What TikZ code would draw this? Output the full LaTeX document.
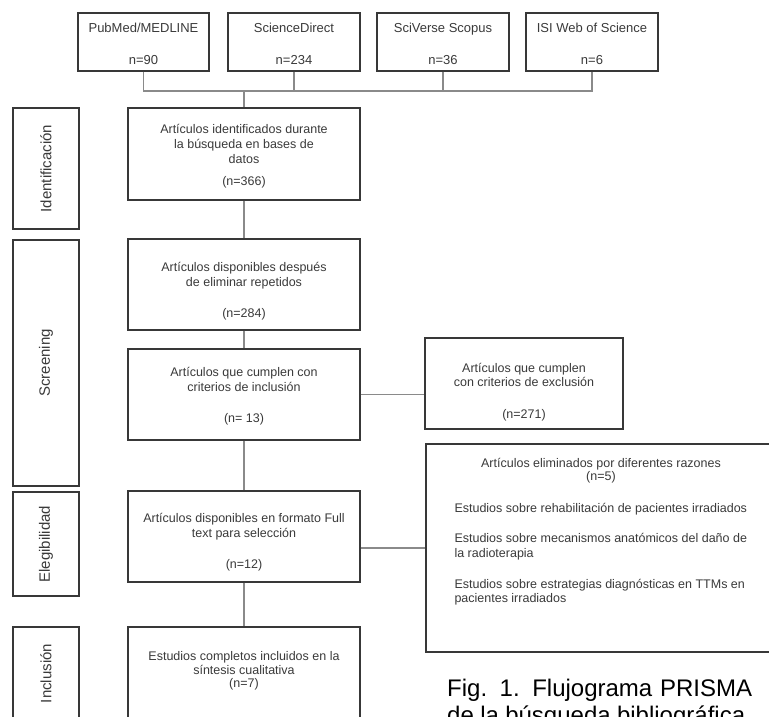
\documentclass[tikz,border=0pt]{standalone}
\usepackage{fontspec}
\setmainfont{Liberation Sans}
\definecolor{boxc}{HTML}{383838}
\definecolor{linec}{HTML}{8A8A8A}
\definecolor{txtc}{HTML}{3A3A3A}
\newcommand{\mytopbox}[4]{\parbox[c][#1][t]{#2}{\centering\vspace*{#3}#4}}
\begin{document}
\begin{tikzpicture}[x=1pt,y=-1pt,
  box/.style={draw=boxc, line width=1.4pt, rectangle, inner sep=0pt, text=txtc, font=\fontsize{12.5}{15}\selectfont},
  srcbox/.style={box, minimum width=132pt, minimum height=58pt, font=\fontsize{13}{15}\selectfont},
  mainbox/.style={box, minimum width=232pt, minimum height=91pt},
  side/.style={draw=boxc, line width=1.4pt, rectangle, inner sep=0pt, rotate=90, minimum height=66pt, text=txtc, font=\fontsize{15}{18}\selectfont},
  conn/.style={draw=linec, line width=1.1pt},
  captxt/.style={anchor=base west, inner sep=0pt, text=black, font=\fontsize{24}{27}\selectfont}]
\useasboundingbox (0,0) rectangle (769,716);
\clip (0,0) rectangle (769,716);
\fill[white] (0,0) rectangle (769,716);

% source boxes
\node[srcbox, minimum width=131pt] (pub) at (143.5,42) {\mytopbox{58pt}{125pt}{10pt}{PubMed/MEDLINE\\[17pt]n=90}};
\node[srcbox] (sd) at (294,42) {\mytopbox{58pt}{125pt}{10pt}{ScienceDirect\\[17pt]n=234}};
\node[srcbox] (sc) at (443,42) {\mytopbox{58pt}{125pt}{10pt}{SciVerse Scopus\\[17pt]n=36}};
\node[srcbox] (isi) at (592,42) {\mytopbox{58pt}{125pt}{10pt}{ISI Web of Science\\[17pt]n=6}};

% main column
\node[mainbox, minimum height=92pt] (ident) at (244,154) {\mytopbox{92pt}{225pt}{16pt}{Artículos identificados durante\\la búsqueda en bases de\\datos\\[7pt](n=366)}};
\node[mainbox] (b2) at (244,284.5) {\mytopbox{91pt}{225pt}{23pt}{Artículos disponibles después\\de eliminar repetidos\\[16pt](n=284)}};
\node[mainbox] (b3) at (244,394.5) {\mytopbox{91pt}{225pt}{18pt}{Artículos que cumplen con\\criterios de inclusión\\[16pt](n= 13)}};
\node[mainbox] (b4) at (244,536.5) {\mytopbox{91pt}{225pt}{22pt}{Artículos disponibles en formato Full\\text para selección\\[16pt](n=12)}};
\node[mainbox, minimum height=93pt] (b5) at (244,673.5) {\mytopbox{93pt}{225pt}{24pt}{Estudios completos incluidos en la\\[-1pt]síntesis cualitativa\\[-2pt](n=7)}};

% right column
\node[box, minimum width=198pt, minimum height=91pt] (excl) at (524,383.5) {\mytopbox{91pt}{190pt}{25pt}{Artículos que cumplen\\[-1pt]con criterios de exclusión\\[17pt](n=271)}};
\node[box, minimum width=350pt, minimum height=208pt] (rem) at (601,548) {\parbox[c][208pt][t]{293pt}{\vspace*{14pt}\centering Artículos eliminados por diferentes razones\\[-2pt](n=5)\par\vspace{17pt}\raggedright Estudios sobre rehabilitación de pacientes irradiados\par\vspace{15pt}Estudios sobre mecanismos anatómicos del daño de\\la radioterapia\par\vspace{16pt}Estudios sobre estrategias diagnósticas en TTMs en\\[-1pt]pacientes irradiados}};

% side labels
\node[side, minimum width=121pt] (s1) at (46,168.5) {Identificación};
\node[side, minimum width=246pt] (s2) at (46,363) {Screening};
\node[side, minimum width=104pt] (s3) at (46,544) {Elegibilidad};
\node[side, minimum width=93pt] (s4) at (46,673.5) {Inclusión};

% connectors
\coordinate (j) at (244,91);
\draw[conn] (pub.south) -- (pub.south |- j) -- (isi.south |- j) -- (isi.south);
\draw[conn] (sd.south) -- (sd.south |- j);
\draw[conn] (sc.south) -- (sc.south |- j);
\draw[conn] (j) -- (ident.north);
\draw[conn] (ident.south) -- (b2.north);
\draw[conn] (b2.south) -- (b3.north);
\draw[conn] (b3.east) -- (b3.east -| excl.west);
\draw[conn] (b3.south) -- (b4.north);
\draw[conn] (rem.west -| b4.east) -- (rem.west);
\draw[conn] (b4.south) -- (b5.north);

% caption
\node[captxt] (cap1) at (447,696) {\makebox[305pt][s]{Fig. 1. Flujograma PRISMA}};
\node[captxt] (cap2) at (447,723) {\makebox[298pt][s]{de la búsqueda bibliográfica}};
\end{tikzpicture}
\end{document}
